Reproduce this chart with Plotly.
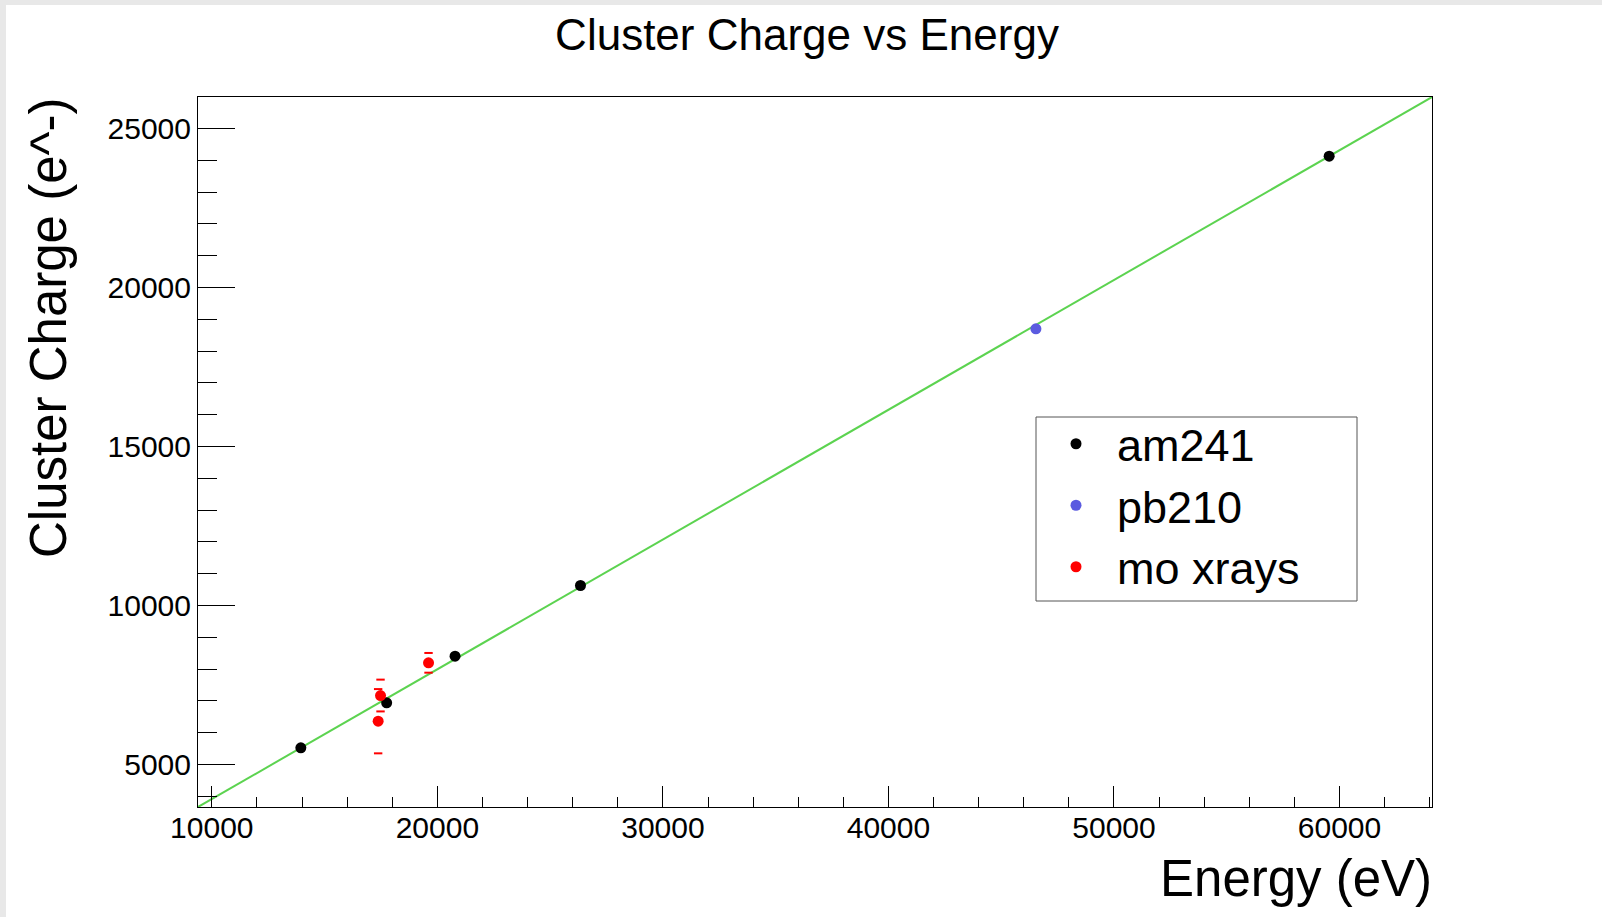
import plotly.graph_objects as go

# ---- data ----
am241_energy = [13946, 17751, 20784, 26345, 59541]
am241_charge = [5525, 6940, 8406, 10629, 24129]

pb210_energy = [46539]
pb210_charge = [18701]

mo_energy = [17374, 17479, 19608]
mo_charge = [6362, 7170, 8198]
mo_err = [1010, 500, 310]

fit_slope = 0.408
fit_intercept = -165.0

title_text = "Cluster Charge vs Energy"
x_title = "Energy (eV)"
y_title = "Cluster Charge (e^-)"

# ---- ROOT-style axis ranges (10% margin around first graph) ----
dx = max(am241_energy) - min(am241_energy)
dy = max(am241_charge) - min(am241_charge)
x_range = [min(am241_energy) - 0.1 * dx, max(am241_energy) + 0.1 * dx]
y_range = [min(am241_charge) - 0.1 * dy, max(am241_charge) + 0.1 * dy]

fit_x = x_range
fit_y = [fit_slope * v + fit_intercept for v in fit_x]

W, H = 1602, 917
ML, MR, MT, MB = 198, 170, 97, 110
PW, PH = W - ML - MR, H - MT - MB

def px_x(p):
    return (p - ML) / PW

def px_y(p):
    return (H - MB - p) / PH

FONT = "Liberation Sans, Arial, sans-serif"

fig = go.Figure()

fig.add_trace(go.Scatter(
    x=fit_x, y=fit_y, mode="lines",
    line=dict(color="#5cd350", width=2),
    showlegend=False, hoverinfo="skip", cliponaxis=True,
))

fig.add_trace(go.Scatter(
    x=am241_energy, y=am241_charge, mode="markers", name="am241",
    marker=dict(color="black", size=11),
))
fig.add_trace(go.Scatter(
    x=pb210_energy, y=pb210_charge, mode="markers", name="pb210",
    marker=dict(color="#5b5be0", size=11),
))
fig.add_trace(go.Scatter(
    x=mo_energy, y=mo_charge, mode="markers", name="mo xrays",
    marker=dict(color="#ff0000", size=11),
))
# error-bar end caps for mo xrays
cap_x = mo_energy + mo_energy
cap_y = [c + e for c, e in zip(mo_charge, mo_err)] + [c - e for c, e in zip(mo_charge, mo_err)]
fig.add_trace(go.Scatter(
    x=cap_x, y=cap_y, mode="markers", showlegend=False, hoverinfo="skip",
    marker=dict(symbol="line-ew", size=6, line=dict(color="#ff0000", width=2)),
))

axis_common = dict(
    showline=True, linecolor="black", linewidth=1, mirror=True,
    showgrid=False, zeroline=False, ticks="inside", tickcolor="black",
    tickwidth=1, tickformat="d", separatethousands=False,
    tickfont=dict(family=FONT, size=30, color="black"),
)

fig.update_xaxes(
    range=x_range, dtick=10000, tick0=0, ticklen=21, ticklabelstandoff=-6,
    minor=dict(dtick=2000, tick0=0, ticks="inside", ticklen=10, tickcolor="black", showgrid=False),
    **axis_common,
)
fig.update_yaxes(
    range=y_range, dtick=5000, tick0=0, ticklen=37,
    minor=dict(dtick=1000, tick0=0, ticks="inside", ticklen=19, tickcolor="black", showgrid=False),
    **axis_common,
)

shapes = [
    # white canvas leaving light gray strips at top and left
    dict(type="rect", xref="paper", yref="paper", layer="below",
         x0=px_x(6), x1=px_x(W + 5), y0=px_y(H + 5), y1=px_y(5),
         fillcolor="white", line=dict(width=0)),
    # legend box
    dict(type="rect", xref="paper", yref="paper", layer="below",
         x0=px_x(1036), x1=px_x(1357), y0=px_y(601), y1=px_y(417),
         fillcolor="white", line=dict(color="#555555", width=1)),
]

annotations = [
    dict(text=x_title, xref="paper", yref="paper", x=px_x(1434), y=px_y(878),
         xanchor="right", yanchor="middle", showarrow=False,
         font=dict(family=FONT, size=51, color="black")),
    dict(text=y_title, xref="paper", yref="paper", x=px_x(48), y=px_y(96),
         xanchor="center", yanchor="top", textangle=-90, showarrow=False,
         font=dict(family=FONT, size=51, color="black")),
]

fig.update_layout(
    width=W, height=H,
    margin=dict(l=ML, r=MR, t=MT, b=MB, autoexpand=False),
    paper_bgcolor="#e8e8e8", plot_bgcolor="white",
    title=dict(text=title_text, x=807 / W, xanchor="center", y=1 - 35 / H, yanchor="middle",
               font=dict(family=FONT, size=44, color="black")),
    shapes=shapes, annotations=annotations,
    legend=dict(x=px_x(1035), y=px_y(408), xanchor="left", yanchor="top",
                bgcolor="rgba(0,0,0,0)", borderwidth=0, itemwidth=72,
                font=dict(family=FONT, size=45, color="black")),
    showlegend=True,
)

fig.write_html("out.html")
